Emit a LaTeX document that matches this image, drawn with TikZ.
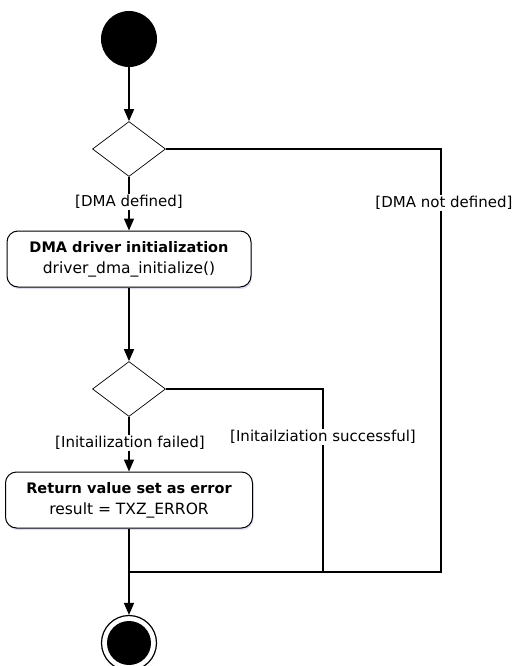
\documentclass[tikz,border=0pt]{standalone}
\usepackage{fontspec}
\setmainfont{DejaVu Sans}
\usetikzlibrary{arrows.meta,shapes.geometric,shadows}
\newcommand{\actiondetail}{\fontsize{15.5}{21}\selectfont}
\begin{document}
\begin{tikzpicture}[x=1pt,y=-1pt,
  flow/.style={line width=1.6pt,draw=black},
  arr/.style={flow,-{Triangle[width=10pt,length=12pt]}},
  decision/.style={diamond,draw,line width=0.7pt,minimum width=73pt,minimum height=55pt,inner sep=0pt},
  action/.style={rounded corners=11pt,draw,line width=1pt,fill=white,align=center,
    inner sep=0pt,font=\fontsize{14.5}{21}\selectfont,
    drop shadow={shadow xshift=1pt,shadow yshift=-2pt,fill=cyan!15!blue!15!white,opacity=0.8}},
  guard/.style={fill=white,inner sep=1pt,font=\fontsize{15}{17}\selectfont}]
\useasboundingbox (0,0) rectangle (515,666);
% initial and final nodes
\node[circle,fill=black,minimum size=56pt,inner sep=0pt] (start) at (129,39) {};
\node[circle,draw,line width=1.2pt,fill=white,minimum size=55pt,inner sep=0pt] (final) at (129,643) {};
\fill (final.center) circle (22pt);
% decisions and actions
\node[decision] (d1) at (129,149) {};
\node[action,minimum width=244pt,minimum height=56pt] (a1) at (129,259)
  {\textbf{DMA driver initialization}\\\actiondetail driver\_dma\_initialize()};
\node[decision] (d2) at (129,389) {};
\node[action,minimum width=247pt,minimum height=56pt] (a2) at (129,500)
  {\textbf{Return value set as error}\\\actiondetail result = TXZ\_ERROR};
% merge points
\coordinate (m0) at (129,572);
\coordinate (m1) at (323,572);
\coordinate (m2) at (441,572);
\coordinate (c1) at (441,149);
\coordinate (c2) at (323,389);
% connectors
\draw[arr] (start) -- (d1);
\draw[arr] (d1) -- (a1);
\draw[arr] (a1) -- (d2);
\draw[arr] (d2) -- (a2);
\draw[flow] (a2) -- (m0);
\draw[flow] (d1.east) -- (c1) -- (m2) -- (m0);
\draw[flow] (d2.east) -- (c2) -- (m1);
\draw[arr] (m0) -- (final);
% guards
\node[guard] at (129,202) {[DMA defined]};
\node[guard] at (444,203) {[DMA not defined]};
\node[guard] at (130,443) {[Initailization failed]};
\node[guard] at (323,437) {[Initailziation successful]};
\end{tikzpicture}
\end{document}
